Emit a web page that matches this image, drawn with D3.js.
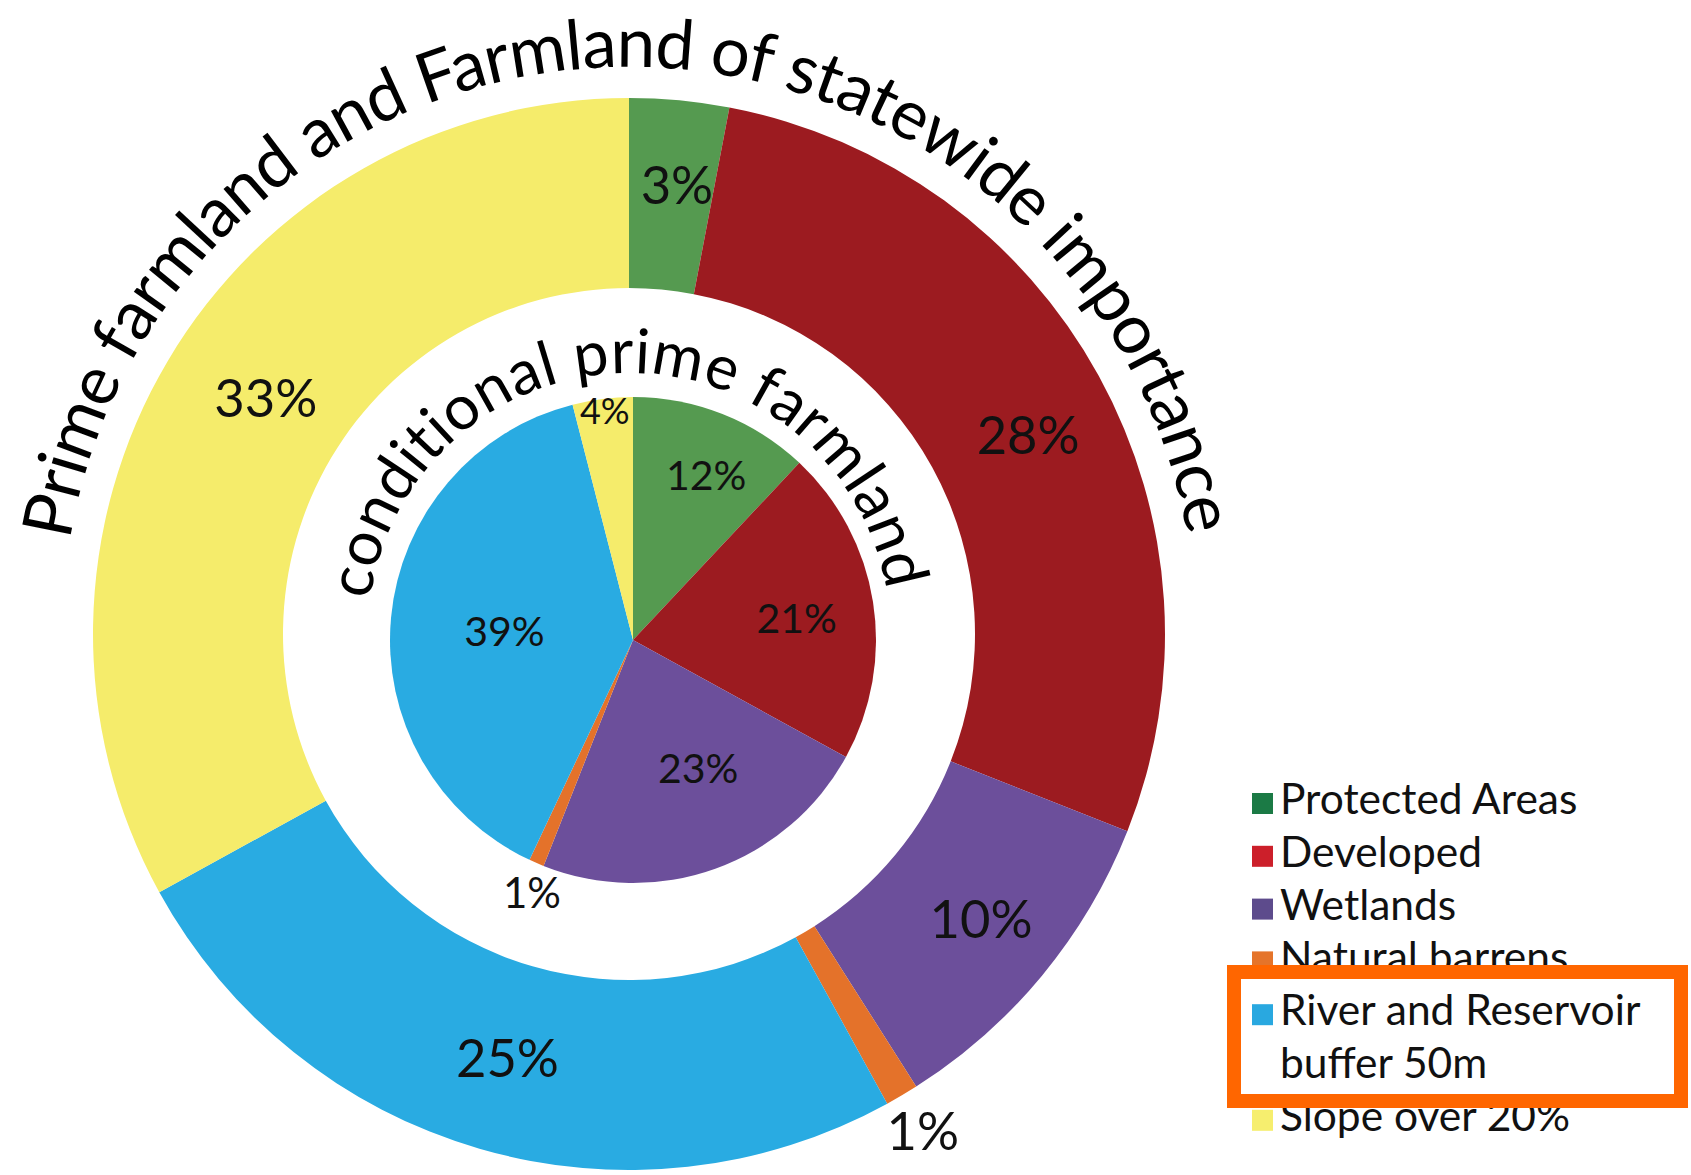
<!DOCTYPE html>
<html>
<head>
<meta charset="utf-8">
<script src="https://cdn.jsdelivr.net/npm/d3@7"></script>
<style>
  html, body { margin: 0; padding: 0; background: #ffffff; }
  svg { display: block; }
  text { font-family: Lato, "Open Sans", sans-serif; }
</style>
</head>
<body>
<svg id="chart" width="1691" height="1175"></svg>
<script>
// ---------------- data ----------------
const categories = ["Protected Areas", "Developed", "Wetlands", "Natural barrens",
                    "River and Reservoir buffer 50m", "Slope over 20%"];
const legendLines = [["Protected Areas"], ["Developed"], ["Wetlands"], ["Natural barrens"],
                     ["River and Reservoir", "buffer 50m"], ["Slope over 20%"]];
// outer ring: Prime farmland and Farmland of statewide importance (%)
const outerValues = [3, 28, 10, 1, 25, 33];
// inner pie: conditional prime farmland (%)
const innerValues = [12, 21, 23, 1, 39, 4];
const outerTitle = "Prime farmland and Farmland of statewide importance";
const innerTitle = "conditional prime farmland";
const highlightedCategory = "River and Reservoir buffer 50m";

// ---------------- styles ----------------
const sliceColors  = ["#559a50", "#9c1b20", "#6c4f9b", "#e4722a", "#29abe2", "#f5ec6b"];
const legendColors = ["#1b7a45", "#cc1f2a", "#5d4b8c", "#e5742a", "#29a8e0", "#f6ee6e"];

// ---------------- layout ----------------
const W = 1691, H = 1175;
const outerC = {x: 629, y: 634}, outerR = 536, holeR = 346;
const innerC = {x: 633, y: 640}, innerR = 243;
// label placement tweaks (radius px / fraction, angle offset in degrees)
const outerLabelR  = [451, 446, 453, 577, 441, 433];
const outerLabelDA = [0.7, 2.3, -0.6, 0, -0.2, 2.4];
const outerLabelSize = 52.5;
const innerLabelR  = [0.74, 0.68, 0.59, 1.12, 0.53, 0.95];
const innerLabelDA = [2.4, 1.4, -7.2, -1.6, -1.4, 0.2];
const innerLabelSize = [41, 41, 41, 42, 41, 36];

const svg = d3.select("#chart");
const pie = d3.pie().sort(null).value(d => d);
const color = d3.scaleOrdinal().domain(categories).range(sliceColors);
const legendColor = d3.scaleOrdinal().domain(categories).range(legendColors);
const toRad = Math.PI / 180;

function polar(c, r, a) { return [c.x + r * Math.sin(a), c.y - r * Math.cos(a)]; }

// ---------- outer ring ----------
const outerArcs = pie(outerValues);
const outerArc = d3.arc().innerRadius(holeR).outerRadius(outerR);
const gOuter = svg.append("g").attr("transform", `translate(${outerC.x},${outerC.y})`);
gOuter.selectAll("path").data(outerArcs).join("path")
  .attr("d", outerArc)
  .attr("fill", (d, i) => color(categories[i]));

// ---------- inner pie ----------
const innerArcs = pie(innerValues);
const innerArc = d3.arc().innerRadius(0).outerRadius(innerR);
const gInner = svg.append("g").attr("transform", `translate(${innerC.x},${innerC.y})`);
gInner.selectAll("path").data(innerArcs).join("path")
  .attr("d", innerArc)
  .attr("fill", (d, i) => color(categories[i]));

// ---------- value labels ----------
svg.append("g").selectAll("text").data(outerArcs).join("text")
  .attr("x", (d, i) => polar(outerC, outerLabelR[i], (d.startAngle + d.endAngle) / 2 + outerLabelDA[i] * toRad)[0])
  .attr("y", (d, i) => polar(outerC, outerLabelR[i], (d.startAngle + d.endAngle) / 2 + outerLabelDA[i] * toRad)[1])
  .attr("text-anchor", "middle").attr("dy", "0.36em")
  .attr("font-size", outerLabelSize).attr("fill", "#111")
  .text(d => d.data + "%");

svg.append("g").selectAll("text").data(innerArcs).join("text")
  .attr("x", (d, i) => polar(innerC, innerLabelR[i] * innerR, (d.startAngle + d.endAngle) / 2 + innerLabelDA[i] * toRad)[0])
  .attr("y", (d, i) => polar(innerC, innerLabelR[i] * innerR, (d.startAngle + d.endAngle) / 2 + innerLabelDA[i] * toRad)[1])
  .attr("text-anchor", "middle").attr("dy", "0.36em")
  .attr("font-size", (d, i) => innerLabelSize[i]).attr("fill", "#111")
  .text(d => d.data + "%");

// ---------- curved titles ----------
function circlePath(c, r) {
  return `M${c.x},${c.y + r} A${r},${r} 0 1 1 ${c.x},${c.y - r} A${r},${r} 0 1 1 ${c.x},${c.y + r}`;
}
function curvedTitle(id, c, r, txt, size, spanDeg, shiftDeg) {
  svg.append("path").attr("id", id).attr("d", circlePath(c, r)).attr("fill", "none");
  const t = svg.append("text").attr("font-size", size).attr("fill", "#000");
  t.append("textPath").attr("href", "#" + id)
    .attr("startOffset", (50 + shiftDeg / 3.6) + "%")
    .attr("text-anchor", "middle")
    .text(txt);
  const natural = t.node().getComputedTextLength();
  const target = spanDeg * toRad * r;
  const ls = (target - natural) / (txt.length - 1);
  t.attr("letter-spacing", ls);
}
curvedTitle("outerTitlePath", outerC, 567, outerTitle, 69, 160.5, -0.3);
curvedTitle("innerTitlePath", outerC, 261, innerTitle, 62, 163, -1);

// ---------- legend ----------
const lgX = 1252, lgTextX = 1280, lgBase0 = 814, lgStep = 52.8, lgBox = 21, lgFont = 42.5;
let row = 0;
const legendRows = categories.map((c, i) => {
  const r = {cat: c, lines: legendLines[i], row: row};
  row += legendLines[i].length;
  return r;
});
function drawLegendItem(g, d) {
  const base = lgBase0 + d.row * lgStep;
  g.append("rect").attr("x", lgX).attr("y", base - lgBox).attr("width", lgBox).attr("height", lgBox)
    .attr("fill", legendColor(d.cat));
  d.lines.forEach((ln, k) => {
    g.append("text").attr("x", lgTextX).attr("y", base + k * lgStep)
      .attr("font-size", lgFont).attr("fill", "#111").text(ln);
  });
}
const gLegend = svg.append("g");
legendRows.filter(d => d.cat !== highlightedCategory).forEach(d => drawLegendItem(gLegend, d));
// highlight box (white fill covers neighbouring entries)
gLegend.append("rect").attr("x", 1234).attr("y", 972).attr("width", 447).attr("height", 129)
  .attr("fill", "#fff").attr("stroke", "#ff6600").attr("stroke-width", 14);
legendRows.filter(d => d.cat === highlightedCategory).forEach(d => drawLegendItem(gLegend, d));
</script>
</body>
</html>
